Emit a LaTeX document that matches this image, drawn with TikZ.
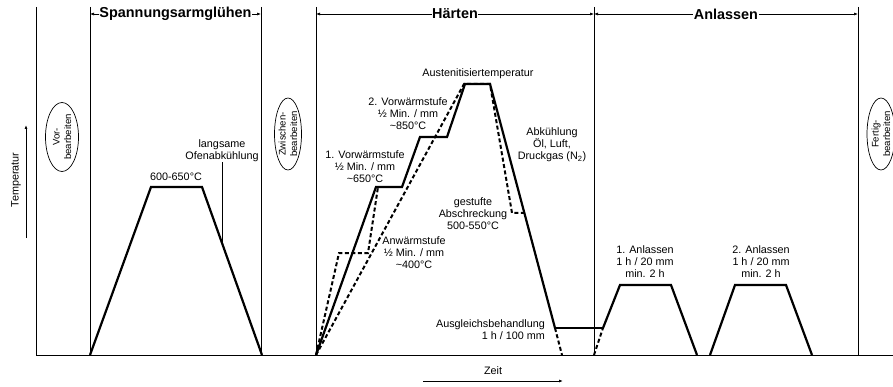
\documentclass[tikz,border=0pt]{standalone}
\usepackage{fontspec}
\setmainfont{Liberation Sans}
\usetikzlibrary{shapes.geometric,arrows.meta}
\begin{document}
\begin{tikzpicture}[x=1pt,y=-1pt,
  lbl/.style={align=center,font=\fontsize{10.8}{12}\selectfont,inner sep=0pt},
  titel/.style={font=\bfseries\fontsize{14.4}{16}\selectfont,fill=white,inner sep=0.5pt},
  oval/.style={draw,ellipse,rotate=90,inner xsep=0pt,inner ysep=-1pt,align=center,font=\fontsize{9.6}{11.5}\selectfont,line width=0.7pt},
  kurve/.style={line width=2.2pt},
  strich/.style={line width=2pt,dash pattern=on 4pt off 2.5pt},
  spanne/.style={{Latex[length=4pt,width=3pt]}-{Latex[length=4pt,width=3pt]},line width=0.6pt},
  duenn/.style={line width=0.8pt}]
  \useasboundingbox (0,0) rectangle (893,387);
  \clip (0,0) rectangle (893,387);
  % horizontal axis
  \draw[duenn] (36,355) -- (893,355);
  % phase borders
  \foreach \x in {36,90,261,316,594,858}
    \draw[duenn] (\x,7) -- (\x,355);
  % phase titles
  \draw[spanne] (90,14) -- (261,14);
  \node[titel] (spannung) at (175.5,14) {Spannungsarmglühen};
  \draw[spanne] (316,14) -- (594,14);
  \node[titel] (haerten) at (455,14) {Härten};
  \draw[spanne] (594,14) -- (858,14);
  \node[titel] (anlassen) at (726,14) {Anlassen};
  % axis labels
  \draw[duenn,-{Latex[length=4pt,width=3pt]}] (26,238) -- (26,125);
  \node[lbl,rotate=90] (temp) at (16,180) {Temperatur};
  \draw[duenn,-{Latex[length=4pt,width=3pt]}] (423,381) -- (563,381);
  \node[lbl] (zeit) at (493,371) {Zeit};
  % machining steps
  \node[oval,minimum width=69,minimum height=33] (vor) at (62,137) {Vor-\\bearbeiten};
  \node[oval,minimum width=72,minimum height=27] (zwischen) at (288,134) {Zwischen-\\bearbeiten};
  \node[oval,minimum width=72,minimum height=28] (fertig) at (881,134) {Fertig-\\bearbeiten};
  % stress relief
  \draw[kurve] (90,355) -- (151,187) -- (202,187) -- (262,355);
  \node[lbl] (spt) at (176,177) {600-650°C};
  \node[lbl] (ofen) at (222,151) {langsame\\Ofenabkühlung};
  \coordinate (ofenpkt) at (222,243);
  \draw[line width=0.6pt] (ofen) -- (ofenpkt);
  % hardening
  \draw[kurve] (316,355) -- (376,187) -- (402,187) -- (420,137) -- (447,137)
    -- (465,84) -- (490,84) -- (555,328);
  \draw[line width=1.6pt] (555,328) -- (603,328);
  \draw[strich] (316,355) -- (339,253) -- (368,253) -- (378,187);
  \draw[strich] (316,355) -- (464,84) -- (490,84) -- (512,213) -- (524,213);
  \draw[strich] (555,328) -- (562,355);
  \draw[strich] (594,355) -- (603,328);
  \node[lbl] (austenit) at (478,74) {Austenitisiertemperatur};
  \node[lbl] (vw2) at (408,114) {2. Vorwärmstufe\\½ Min. / mm\\\textasciitilde850°C};
  \node[lbl] (vw1) at (365,167) {1. Vorwärmstufe\\½ Min. / mm\\\textasciitilde650°C};
  \node[lbl] (anw) at (414,253) {Anwärmstufe\\½ Min. / mm\\\textasciitilde400°C};
  \node[lbl] (abschr) at (473,214) {gestufte\\Abschreckung\\500-550°C};
  \node[lbl] (abk) at (552,145) {Abkühlung\\Öl, Luft,\\Druckgas (N\textsubscript{2})};
  \node[lbl,align=right,anchor=east] (ausgl) at (545,330) {Ausgleichsbehandlung\\1 h / 100 mm};
  % tempering
  \draw[kurve] (603,328) -- (620,285) -- (671,285) -- (697,355);
  \draw[kurve] (710,355) -- (735,285) -- (786,285) -- (812,355);
  \node[lbl] (anl1) at (645,262) {1. Anlassen\\1 h / 20 mm\\min. 2 h};
  \node[lbl] (anl2) at (761,262) {2. Anlassen\\1 h / 20 mm\\min. 2 h};
\end{tikzpicture}
\end{document}
